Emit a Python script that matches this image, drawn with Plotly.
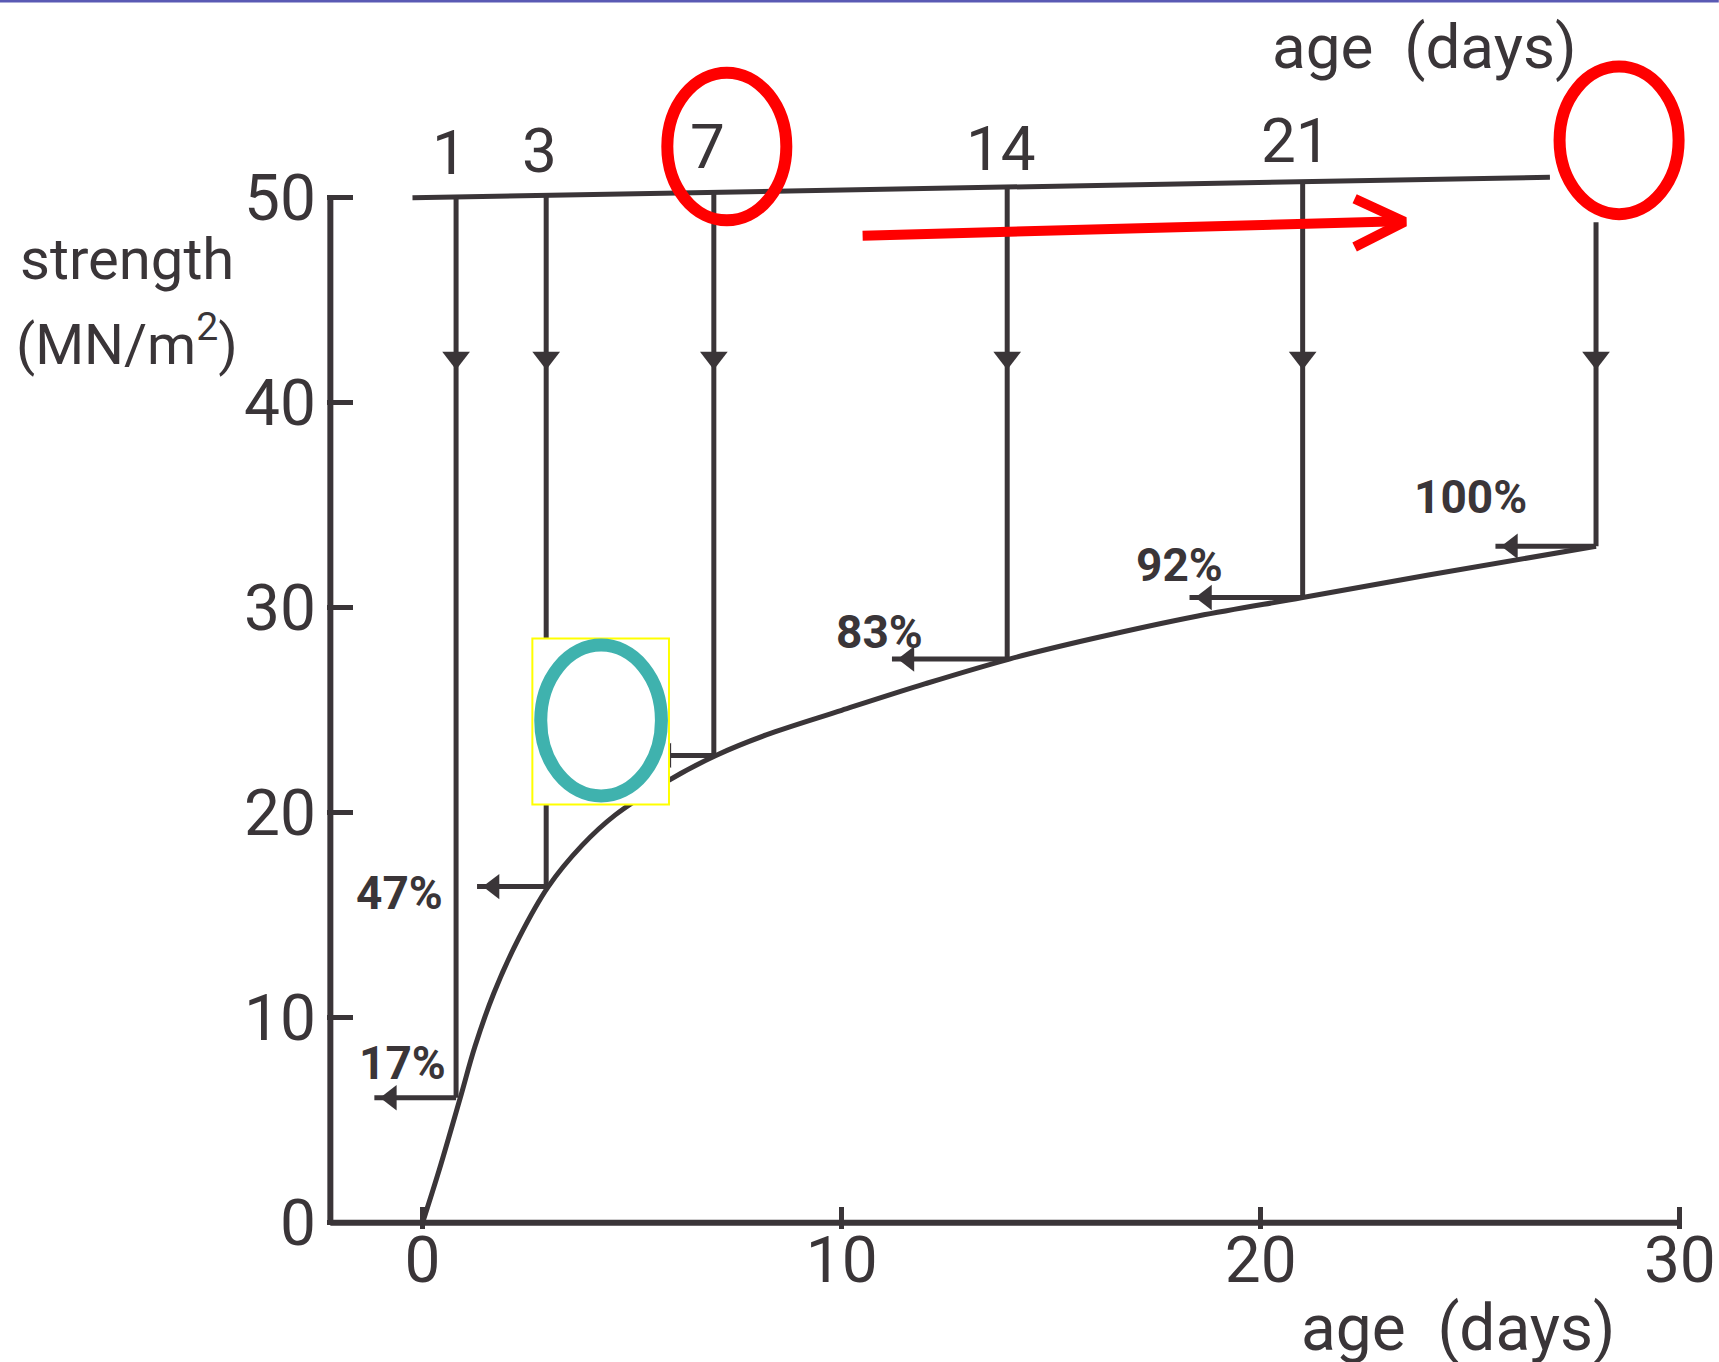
import plotly.graph_objects as go
import numpy as np

# ---------------- data ----------------
# strength-development curve (age in days, strength in MN/m2)
curve_age = [0, 0.4, 0.9, 1.25, 1.7, 2.3, 3.0, 3.8, 4.6, 5.8, 7.0, 8.2, 10.0,
             12.0, 14.0, 16.0, 18.5, 21.0, 24.0, 28.0]
curve_strength = [0, 2.6, 6.1, 8.6, 11.2, 13.9, 16.4, 18.4, 19.9, 21.5, 22.8, 23.8, 25.0,
                  26.3, 27.5, 28.5, 29.6, 30.5, 31.6, 33.0]

# test ages (drawn position of each vertical line) and labels at the top
test_age = [0.8, 2.95, 6.95, 13.95, 21.0, 28.0]
test_labels = ["1", "3", "7", "14", "21", ""]
test_strength = [6.1, 16.4, 22.8, 27.5, 30.5, 33.0]
arrow_tip_age = [-1.15, 1.3, 5.4, 11.2, 18.3, 25.6]
pct_labels = ["17%", "47%", "", "83%", "92%", "100%"]
pct_age = [-0.48, -0.55, None, 10.9, 18.07, 25.0]
pct_strength = [7.8, 16.1, None, 28.8, 32.1, 35.4]

top_line_age = [-0.24, 26.9]
top_line_strength = [50.0, 51.0]
down_arrow_strength = 42.2

y_ticks = [0, 10, 20, 30, 40, 50]
x_ticks = [0, 10, 20, 30]

INK = "#3a3538"
FONT = "Roboto, Liberation Sans, sans-serif"
RED = "#ff0000"

fig = go.Figure()

# axes frame
fig.add_trace(go.Scatter(x=[-2.2, -2.2], y=[50, 0], mode="lines",
                         line=dict(color=INK, width=6), hoverinfo="skip"))
fig.add_trace(go.Scatter(x=[-2.2, 30], y=[0, 0], mode="lines",
                         line=dict(color=INK, width=6), hoverinfo="skip"))

# top horizontal line
fig.add_trace(go.Scatter(x=top_line_age, y=top_line_strength, mode="lines",
                         line=dict(color=INK, width=5), hoverinfo="skip"))

# vertical lines from the top line down to the curve
for i, (a, s) in enumerate(zip(test_age, test_strength)):
    y_top = float(np.interp(a, top_line_age, top_line_strength))
    if test_labels[i] == "":
        y_top = 48.8
    fig.add_trace(go.Scatter(x=[a, a], y=[y_top, s], mode="lines",
                             line=dict(color=INK, width=5), hoverinfo="skip"))
    # horizontal arrow shaft to the left
    fig.add_trace(go.Scatter(x=[a, arrow_tip_age[i]], y=[s, s], mode="lines",
                             line=dict(color=INK, width=5), hoverinfo="skip"))

# curve
fig.add_trace(go.Scatter(x=curve_age, y=curve_strength, mode="lines",
                         line=dict(color=INK, width=5, shape="spline", smoothing=1.0),
                         hoverinfo="skip"))

# arrowheads
fig.add_trace(go.Scatter(x=test_age, y=[down_arrow_strength] * len(test_age), mode="markers",
                         marker=dict(symbol="triangle-down", size=24, color=INK),
                         hoverinfo="skip", cliponaxis=False))
fig.add_trace(go.Scatter(x=[t + 0.4 for t in arrow_tip_age], y=test_strength, mode="markers",
                         marker=dict(symbol="triangle-left", size=22, color=INK),
                         hoverinfo="skip", cliponaxis=False))

annotations = []
# percentage labels
for lab, a, s in zip(pct_labels, pct_age, pct_strength):
    if lab:
        annotations.append(dict(x=a, y=s, text=lab, showarrow=False,
                                xanchor="center", yanchor="middle",
                                font=dict(family=FONT, size=46, color=INK, weight=700)))
# age labels at the top
for lab, a, s in zip(test_labels, test_age, [52.2, 52.3, 52.5, 52.4, 52.8, 52.8]):
    if lab:
        annotations.append(dict(x=a - 0.15, y=s, text=lab, showarrow=False,
                                xanchor="center", yanchor="middle",
                                font=dict(family=FONT, size=62, color=INK)))

# axis titles
annotations.append(dict(x=23.9, y=57.4, text="age&nbsp;&nbsp;(days)", showarrow=False,
                        xanchor="center", yanchor="middle",
                        font=dict(family=FONT, size=62, color=INK)))
annotations.append(dict(x=24.7, y=-0.081, yref="paper", text="age&nbsp;&nbsp;(days)",
                        xanchor="center", yanchor="middle",
                        showarrow=False, font=dict(family=FONT, size=64, color=INK)))
annotations.append(dict(x=-0.1455, xref="paper", y=47.0, text="strength", showarrow=False,
                        xanchor="center", yanchor="middle",
                        font=dict(family=FONT, size=58, color=INK)))
annotations.append(dict(x=-0.1455, xref="paper", y=43.0, text="(MN/m<sup>2</sup>)",
                        xanchor="center", yanchor="middle",
                        showarrow=False, font=dict(family=FONT, size=56, color=INK)))

# red arrow (shaft + chevron)
fig.add_trace(go.Scatter(x=[10.5, 23.3], y=[48.15, 48.85], mode="lines",
                         line=dict(color=RED, width=10), hoverinfo="skip"))
fig.add_trace(go.Scatter(x=[22.24, 23.43, 22.24], y=[49.95, 48.83, 47.6], mode="lines",
                         line=dict(color=RED, width=10), hoverinfo="skip"))

shapes = [
    # red ellipse around "7"
    dict(type="circle", xref="x", yref="y", x0=7.26 - 1.42, x1=7.26 + 1.42,
         y0=52.5 - 3.6, y1=52.5 + 3.6, line=dict(color=RED, width=12)),
    # red ellipse at day 28
    dict(type="circle", xref="x", yref="y", x0=28.55 - 1.42, x1=28.55 + 1.42,
         y0=52.8 - 3.6, y1=52.8 + 3.6, line=dict(color=RED, width=12)),
    # yellow box hiding the 7-day percentage
    dict(type="rect", xref="x", yref="y", x0=2.62, x1=5.88, y0=20.4, y1=28.5,
         fillcolor="white", line=dict(color="#ffff00", width=2)),
    # teal ellipse
    dict(type="circle", xref="x", yref="y", x0=4.26 - 1.44, x1=4.26 + 1.44,
         y0=24.5 - 3.68, y1=24.5 + 3.68, line=dict(color="#3fb2ae", width=13)),
    # thin top border
    dict(type="rect", xref="paper", yref="paper", x0=-0.25, x1=1.01,
         y0=1 + 0.5 / 1226, y1=1 + 3 / 1226, fillcolor="#5a5ab4", line=dict(width=0)),
]

fig.update_layout(
    width=1719, height=1362,
    margin=dict(l=327, r=11, t=3, b=133),
    paper_bgcolor="white", plot_bgcolor="white",
    showlegend=False,
    shapes=shapes,
    annotations=annotations,
    xaxis=dict(range=[-2.28, 30.6], showgrid=False, zeroline=False, showline=False,
               tickmode="array", tickvals=x_ticks, ticktext=[str(v) for v in x_ticks],
               ticks="inside", ticklen=22, tickwidth=5, tickcolor=INK,
               ticklabelstandoff=-12, ticklabeloverflow="allow",
               tickfont=dict(family=FONT, size=64, color=INK)),
    yaxis=dict(range=[-0.3, 59.5], showgrid=False, zeroline=False, showline=False,
               tickmode="array", tickvals=y_ticks, ticktext=[str(v) for v in y_ticks],
               ticks="inside", ticklen=26, tickwidth=5, tickcolor=INK,
               ticklabelstandoff=10,
               tickfont=dict(family=FONT, size=64, color=INK)),
)

fig.write_html("out.html")
